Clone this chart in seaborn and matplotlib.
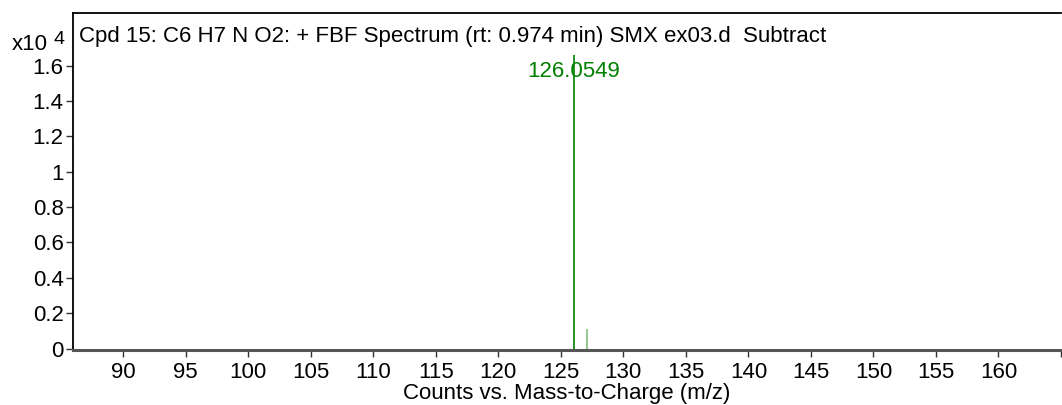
import matplotlib
matplotlib.use("Agg")
import matplotlib.pyplot as plt
import seaborn as sns
import pandas as pd

# data (intensities in units of 1e4 counts)
mz = [126.0549, 127.0580]
intensity = [1.657, 0.110]
peak_colors = ["#008000", "#7fbf7f"]
peak_label = "126.0549"
x_ticks = [90, 95, 100, 105, 110, 115, 120, 125, 130, 135, 140, 145, 150, 155, 160, 165]
x_tick_labels = ["90", "95", "100", "105", "110", "115", "120", "125", "130", "135",
                 "140", "145", "150", "155", "160", ""]
y_ticks = [0, 0.2, 0.4, 0.6, 0.8, 1.0, 1.2, 1.4, 1.6]
y_tick_labels = ["0", "0.2", "0.4", "0.6", "0.8", "1", "1.2", "1.4", "1.6"]
title = "Cpd 15: C6 H7 N O2: + FBF Spectrum (rt: 0.974 min) SMX ex03.d  Subtract"
xlabel = "Counts vs. Mass-to-Charge (m/z)"

sns.set_style("ticks")
plt.rcParams["font.family"] = ["Liberation Sans", "DejaVu Sans"]
plt.rcParams["text.color"] = "black"
plt.rcParams["axes.labelcolor"] = "black"
plt.rcParams["xtick.color"] = "black"
plt.rcParams["ytick.color"] = "black"

df = pd.DataFrame({"mz": mz, "intensity": intensity, "color": peak_colors})

fs = 16
fig = plt.figure(figsize=(10.62, 4.05), dpi=100)
ax = fig.add_axes([0.069, 0.1346, 0.930, 0.8345])

ax.vlines(df["mz"], 0, df["intensity"], colors=df["color"], linewidth=1.2)
ax.text(df["mz"][0], 1.565, peak_label, color="#008000", fontsize=fs,
        ha="center", va="center")

ax.set_xlim(86.0, 165.0)
ax.set_ylim(-0.011, 1.9)
ax.set_xticks(x_ticks)
ax.set_xticklabels(x_tick_labels, fontsize=fs)
ax.set_yticks(y_ticks)
ax.set_yticklabels(y_tick_labels, fontsize=fs)
ax.tick_params(axis="both", direction="out", length=5, width=1, color="#333333", pad=2)
ax.tick_params(axis="x", pad=3)
ax.set_xlabel(xlabel, fontsize=fs, labelpad=0)

for s in ["left", "top"]:
    ax.spines[s].set_linewidth(1.3)
    ax.spines[s].set_color("black")
ax.spines["bottom"].set_linewidth(2.2)
ax.spines["bottom"].set_color("#555555")
ax.spines["right"].set_visible(False)

ax.text(0.006, 0.93, title, transform=ax.transAxes, fontsize=fs, ha="left", va="center")
fig.text(0.011, 0.890, "x10", fontsize=fs, ha="left", va="center")
fig.text(0.0505, 0.902, "4", fontsize=14, ha="left", va="center")

fig.savefig("out.png", dpi=100)
